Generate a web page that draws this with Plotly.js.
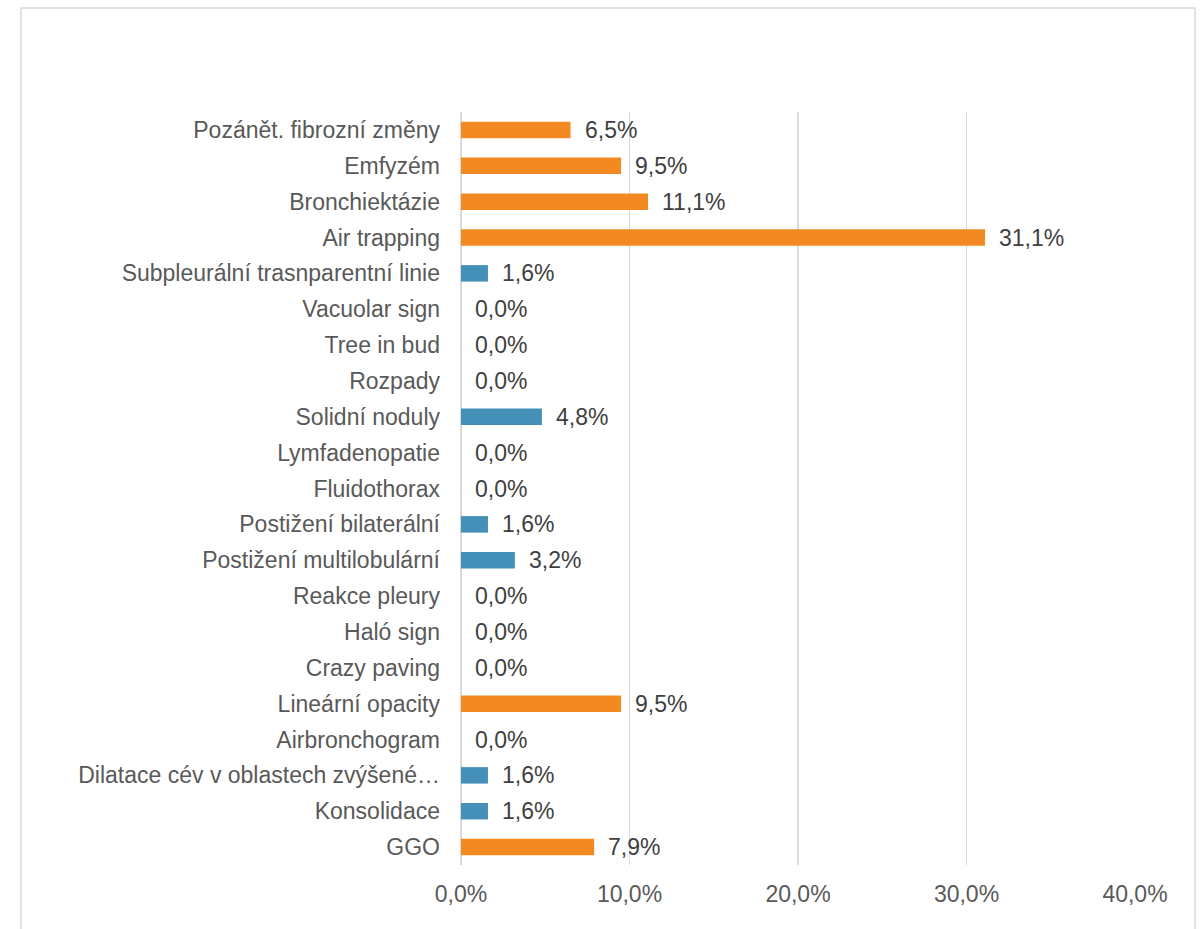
<!DOCTYPE html>
<html>
<head>
<meta charset="utf-8">
<script src="https://cdn.plot.ly/plotly-3.0.1.min.js"></script>
<style>
  html, body { margin: 0; padding: 0; background: #fff; }
  #chart { width: 1200px; height: 929px; }
</style>
</head>
<body>
<div id="chart"></div>
<script>
const categories = [
  "Pozánět. fibrozní změny",
  "Emfyzém",
  "Bronchiektázie",
  "Air trapping",
  "Subpleurální trasnparentní linie",
  "Vacuolar sign",
  "Tree in bud",
  "Rozpady",
  "Solidní noduly",
  "Lymfadenopatie",
  "Fluidothorax",
  "Postižení bilaterální",
  "Postižení multilobulární",
  "Reakce pleury",
  "Haló sign",
  "Crazy paving",
  "Lineární opacity",
  "Airbronchogram",
  "Dilatace cév v oblastech zvýšené…",
  "Konsolidace",
  "GGO"
];

const values = [6.5, 9.5, 11.1, 31.1, 1.6, 0, 0, 0, 4.8, 0, 0, 1.6, 3.2, 0, 0, 0, 9.5, 0, 1.6, 1.6, 7.9];

// o = orange, b = blue
const colorKeys = ["o", "o", "o", "o", "b", "b", "b", "b", "b", "b", "b", "b", "b", "b", "b", "b", "o", "b", "b", "b", "o"];

const xTicks = [0, 10, 20, 30, 40];

const ORANGE = "#F28A21";
const BLUE = "#4590B8";
const FONT = "Liberation Sans, Arial, sans-serif";
const SIZE = 23;

function fmt(v) {
  return v.toFixed(1).replace(".", ",") + "%";
}

const barTrace = {
  type: "bar",
  orientation: "h",
  x: values,
  y: categories,
  marker: { color: colorKeys.map(k => (k === "o" ? ORANGE : BLUE)) },
  hoverinfo: "skip",
  showlegend: false
};

const labels = values.map((v, i) => ({
  x: v,
  y: categories[i],
  xref: "x",
  yref: "y",
  text: fmt(v),
  showarrow: false,
  xanchor: "left",
  xshift: 12,
  font: { family: FONT, size: SIZE, color: "#404040" }
}));

const layout = {
  width: 1200,
  height: 929,
  margin: { l: 461, r: 65, t: 112, b: 64 },
  paper_bgcolor: "#fff",
  plot_bgcolor: "#fff",
  bargap: 0.54,
  font: { family: FONT, size: SIZE, color: "#595959" },
  xaxis: {
    range: [0, 40],
    tickvals: xTicks,
    ticktext: xTicks.map(fmt),
    showgrid: true,
    gridcolor: "#d9d9d9",
    gridwidth: 1.5,
    zeroline: true,
    zerolinecolor: "#d9d9d9",
    zerolinewidth: 1.5,
    showline: false,
    ticks: "",
    ticklabelstandoff: 13,
    fixedrange: true
  },
  yaxis: {
    type: "category",
    autorange: "reversed",
    showgrid: false,
    zeroline: false,
    showline: false,
    ticks: "",
    ticklabelstandoff: 20,
    fixedrange: true
  },
  annotations: labels,
  shapes: [{
    type: "rect",
    xref: "paper",
    yref: "paper",
    x0: (21 - 461) / 674,
    x1: (1195 - 461) / 674,
    y0: -0.1,
    y1: (865 - 8) / 753,
    line: { color: "#d9d9d9", width: 1.5 },
    fillcolor: "rgba(0,0,0,0)",
    layer: "below"
  }]
};

Plotly.newPlot("chart", [barTrace], layout, { displayModeBar: false, staticPlot: true });
</script>
</body>
</html>
